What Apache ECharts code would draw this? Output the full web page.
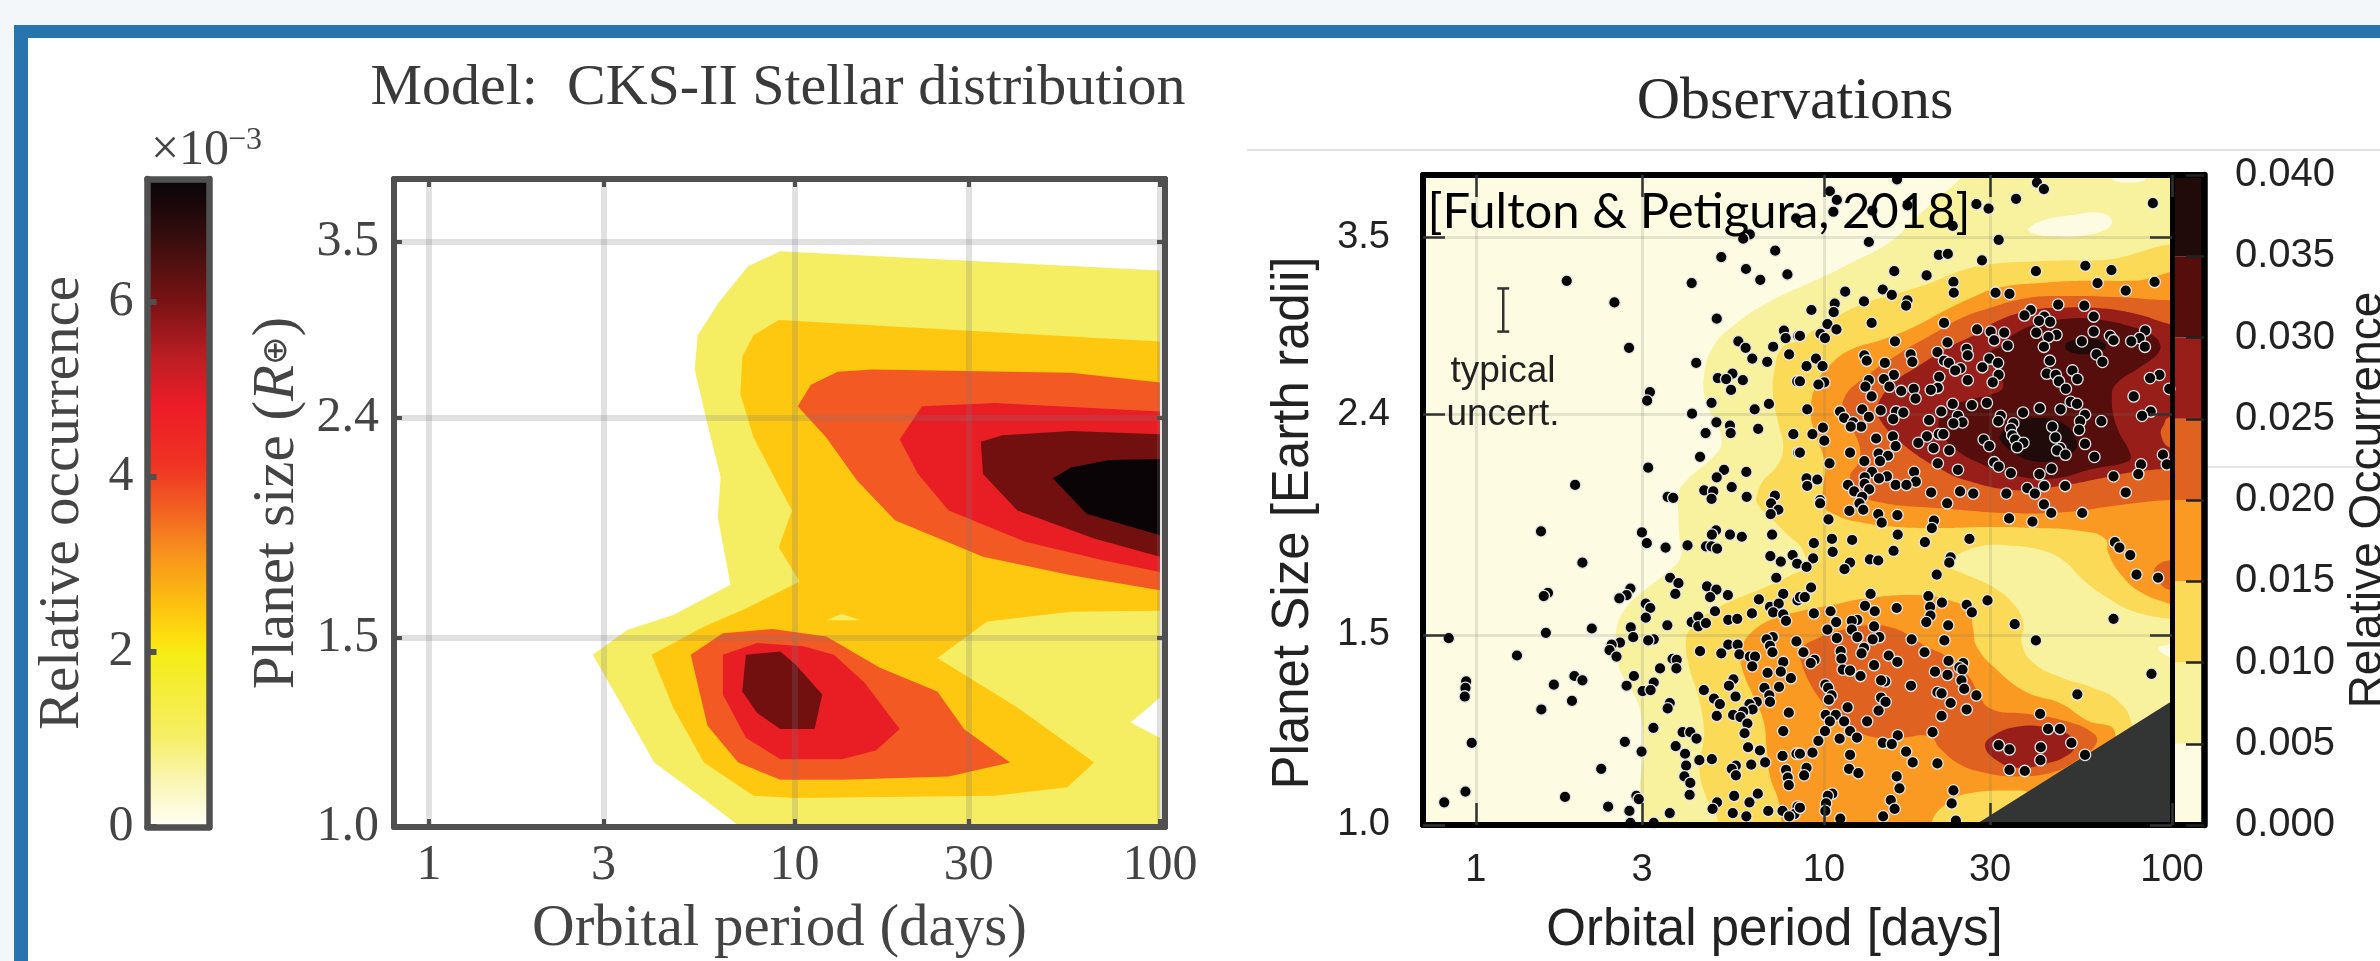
<!DOCTYPE html>
<html><head><meta charset="utf-8"><style>html,body{margin:0;padding:0;background:#fff}#c{width:2380px;height:961px}</style>
<script src="https://cdn.jsdelivr.net/npm/echarts@6/dist/echarts.min.js"></script></head><body><div id="c"></div>
<script>
// All positions on the two period-size planes are [log10(period/days), log10(radius/Earth radii)].
const periodTicks=[1,3,10,30,100];
const radiusTicks=[1.0,1.5,2.4,3.5];
const modelScaleTicks=[0,2,4,6];
const obsScaleTicks=[0,0.005,0.01,0.015,0.02,0.025,0.03,0.035,0.04];
const obsBandEdges=[0,0.005,0.01,0.015,0.02,0.025,0.03,0.035,0.04];
const obsBandColors=['#fdfbe2','#f8f29e','#fbda58','#fa9a22','#e06220','#981e1a','#560e0d','#210b0a'];
const modelScaleStops=[[0,'#fffff6'],[0.07,'#faf6b4'],[0.135,'#f6ef6a'],[0.27,'#f5ec14'],[0.29,'#fde010'],[0.345,'#fdc010'],[0.42,'#f7941d'],[0.5,'#f15a22'],[0.56,'#ef3323'],[0.65,'#ed1c27'],[0.72,'#bf1e24'],[0.81,'#7a1214'],[0.9,'#3d0e0e'],[0.97,'#150609'],[1,'#0a0508']];

const modelL1=[[2,.517],[.961,.535],[.873,.521],[.794,.488],[.735,.457],[.727,.425],[.762,.374],[.798,.325],[.79,.288],[.825,.225],[.668,.197],[.542,.183],[.448,.16],[.521,.117],[.616,.06],[.752,.026],[.852,0],[2,0],[2,.083],[1.92,.097],[2,.12]];
const modelL2=[[2,.451],[.957,.471],[.888,.457],[.857,.437],[.852,.402],[.888,.362],[.94,.328],[.993,.294],[.957,.26],[1.014,.228],[.867,.203],[.752,.186],[.609,.16],[.668,.111],[.752,.06],[.888,.029],[1.003,.027],[1.548,.029],[1.747,.037],[1.82,.06],[1.61,.111],[1.391,.157],[1.527,.191],[1.757,.2],[2,.201]];
const modelL2Gap=[[1.087,.192],[1.129,.198],[1.181,.192]];
const modelL3Upper=[[2,.413],[1.757,.422],[1.213,.425],[1.118,.423],[1.045,.411],[1.009,.391],[1.087,.362],[1.171,.322],[1.275,.285],[1.516,.251],[1.757,.234],[2,.22]];
const modelL3Lower=[[.716,.16],[.804,.18],[.94,.184],[1.087,.177],[1.234,.148],[1.391,.126],[1.464,.091],[1.59,.06],[1.422,.047],[1.129,.044],[.961,.044],[.846,.06],[.762,.094]];
const modelL4Upper=[[2,.386],[1.548,.394],[1.349,.391],[1.288,.36],[1.338,.328],[1.422,.294],[1.631,.265],[1.841,.248],[2,.237]];
const modelL4Lower=[[.804,.16],[.898,.171],[1.024,.168],[1.108,.16],[1.192,.134],[1.288,.091],[1.223,.071],[1.129,.063],[.961,.063],[.867,.083],[.804,.123]];
const modelL5Upper=[[2,.365],[1.757,.368],[1.569,.364],[1.51,.358],[1.516,.328],[1.61,.294],[1.82,.268],[2,.251]];
const modelL5Lower=[[.867,.16],[.961,.163],[1.003,.151],[1.076,.123],[1.055,.091],[.961,.091],[.898,.106],[.857,.126]];
const modelL6=[[2,.342],[1.862,.341],[1.757,.334],[1.707,.324],[1.799,.291],[2,.271]];

const obsL1=[[1.45,.63],[1.391,.599],[1.314,.577],[1.257,.56],[1.19,.54],[1.075,.52],[1,.508],[.931,.498],[.845,.485],[.749,.465],[.682,.443],[.655,.415],[.663,.39],[.696,.369],[.706,.353],[.682,.341],[.605,.319],[.581,.306],[.581,.292],[.584,.27],[.588,.248],[.553,.235],[.491,.219],[.433,.202],[.404,.182],[.404,.156],[.423,.137],[.462,.116],[.479,.091],[.481,.066],[.471,.035],[.476,.002],[.476,-.03],[2.06,-.03],[2.06,.65]];
const obsL0HoleA=[[1.587,.552],[1.63,.56],[1.716,.565],[1.793,.567],[1.827,.56],[1.812,.552],[1.745,.546],[1.659,.545],[1.601,.548]];
const obsL0HoleB=[[1.827,.6],[1.874,.595],[1.927,.6],[1.88,.62]];
const obsL0HoleC=[[1.96,.164],[1.989,.167],[2.03,.17],[2.03,.15],[1.989,.156]];
const obsL2=[[2.05,.525],[1.793,.523],[1.602,.522],[1.468,.519],[1.381,.512],[1.305,.502],[1.218,.493],[1.113,.483],[1.027,.469],[.969,.458],[.931,.449],[.883,.443],[.859,.424],[.854,.397],[.869,.372],[.883,.35],[.864,.332],[.826,.319],[.808,.306],[.808,.298],[.855,.282],[.902,.267],[.931,.259],[.95,.247],[.965,.239],[.931,.235],[.845,.222],[.682,.199],[.615,.181],[.603,.168],[.615,.144],[.639,.119],[.655,.091],[.653,.076],[.642,.054],[.658,.029],[.697,.002],[.7,-.03],[1.6,-.03],[1.889,.05],[1.884,.094],[1.841,.116],[1.774,.127],[1.678,.137],[1.602,.15],[1.568,.168],[1.573,.187],[1.544,.205],[1.477,.222],[1.4,.233],[1.353,.241],[1.382,.25],[1.448,.258],[1.525,.259],[1.621,.255],[1.688,.245],[1.745,.227],[1.812,.211],[1.889,.198],[1.992,.191],[2.05,.19]];
const obsL3Upper=[[2.05,.505],[1.889,.504],[1.745,.504],[1.621,.502],[1.506,.498],[1.429,.489],[1.333,.474],[1.257,.461],[1.171,.45],[1.075,.44],[1.017,.426],[.979,.409],[.962,.384],[.974,.363],[1.003,.335],[.998,.313],[.998,.296],[1.036,.287],[1.094,.281],[1.209,.276],[1.333,.275],[1.467,.276],[1.602,.275],[1.745,.272],[1.808,.265],[1.817,.252],[1.851,.233],[1.908,.216],[1.992,.205],[2.05,.2]];
const obsL3Lower=[[.878,-.03],[.878,.002],[.869,.023],[.845,.045],[.835,.073],[.826,.097],[.797,.119],[.763,.147],[.763,.162],[.787,.177],[.854,.191],[.931,.198],[1.027,.204],[1.123,.21],[1.266,.213],[1.362,.208],[1.415,.199],[1.429,.181],[1.439,.165],[1.496,.144],[1.582,.123],[1.678,.113],[1.755,.097],[1.836,.086],[1.8,.03],[1.6,.03],[1.563,.032],[1.41,.029],[1.353,.02],[1.31,.003],[1.3,-.03]];
const obsL4Upper=[[2.05,.487],[1.992,.486],[1.841,.489],[1.697,.49],[1.582,.488],[1.467,.478],[1.391,.469],[1.314,.455],[1.218,.437],[1.132,.418],[1.056,.394],[1.075,.372],[1.103,.35],[1.098,.335],[1.075,.323],[1.094,.31],[1.127,.302],[1.161,.299],[1.218,.296],[1.353,.293],[1.525,.289],[1.697,.29],[1.841,.296],[1.992,.301],[2.05,.3]];
const obsL4Lower=[[.931,.162],[.989,.174],[1.056,.181],[1.123,.185],[1.18,.184],[1.238,.177],[1.295,.165],[1.353,.156],[1.41,.14],[1.439,.125],[1.477,.108],[1.582,.103],[1.697,.096],[1.774,.085],[1.783,.076],[1.74,.063],[1.659,.049],[1.554,.045],[1.468,.048],[1.391,.056],[1.333,.071],[1.305,.082],[1.218,.081],[1.123,.083],[1.046,.097],[.998,.113],[.96,.131],[.936,.15]];
const obsL4Side=[[2.05,.245],[1.992,.245],[1.96,.241],[1.948,.234],[1.96,.226],[1.992,.218],[2.05,.22]];
const obsL5Upper=[[2.05,.46],[1.992,.464],[1.889,.474],[1.774,.479],[1.678,.479],[1.602,.477],[1.506,.468],[1.439,.455],[1.362,.443],[1.266,.424],[1.199,.409],[1.153,.387],[1.166,.373],[1.209,.358],[1.266,.343],[1.333,.33],[1.41,.319],[1.554,.31],[1.678,.314],[1.793,.321],[1.889,.327],[1.992,.33],[2.05,.33]];
const obsL4Notch=[[2.05,.38],[1.992,.378],[1.975,.37],[1.968,.362],[1.992,.35],[2.05,.35]];
const obsL5Lower=[[1.463,.073],[1.487,.083],[1.554,.091],[1.631,.091],[1.697,.085],[1.721,.074],[1.702,.065],[1.64,.057],[1.554,.053],[1.496,.06]];
const obsL6=[[1.697,.469],[1.602,.463],[1.544,.454],[1.506,.443],[1.473,.437],[1.496,.421],[1.515,.406],[1.482,.399],[1.42,.394],[1.353,.386],[1.329,.372],[1.343,.36],[1.381,.347],[1.448,.335],[1.544,.324],[1.659,.321],[1.774,.33],[1.875,.337],[1.88,.344],[1.841,.369],[1.827,.397],[1.841,.409],[1.908,.424],[1.96,.437],[1.965,.446],[1.937,.455],[1.889,.461],[1.793,.468]];
const obsL7A=[[1.693,.444],[1.707,.448],[1.745,.451],[1.793,.449],[1.81,.443],[1.788,.438],[1.745,.436],[1.707,.438]];
const obsL7B=[[1.506,.361],[1.544,.372],[1.611,.377],[1.688,.372],[1.726,.356],[1.721,.347],[1.678,.339],[1.602,.337],[1.544,.345],[1.51,.355]];
const obsExcluded=[[1.286,-.03],[2.03,.121],[2.03,-.03]];
const typicalUncert=[.0785,.457,.497];

const obsPointsUpperShort=[[.92,.562],[.787,.547],[.768,.543],[.86,.532],[.705,.526],[.776,.515],[.817,.505],[.895,.51],[.261,.504],[.62,.502],[.398,.484],[.692,.469],[.885,.458],[.89,.451],[.926,.453],[.754,.448],[.775,.442],[.854,.443],[.44,.442],[.9,.436],[.794,.432],[.837,.429],[.633,.428],[.737,.418],[.695,.414],[.719,.413],[.767,.412],[.923,.411],[.733,.403],[.5,.401],[.492,.393],[.677,.391],[.842,.39],[.801,.385],[.621,.381],[.691,.373],[.73,.37],[.811,.367],[.732,.363],[.66,.363],[.912,.362],[.926,.345],[.644,.341],[.495,.331],[.713,.329],[.777,.327],[.692,.322],[.285,.315],[.735,.313],[.656,.31],[.682,.309],[.551,.304],[.567,.303],[.677,.302],[.778,.304],[.859,.305]];
const obsPointsLowerShort=[[.848,.298],[.869,.292],[.847,.288],[.187,.272],[.477,.271],[.69,.273],[.678,.269],[.73,.269],[.764,.267],[.851,.269],[.491,.261],[.545,.257],[.608,.259],[.661,.258],[.677,.258],[.693,.256],[.846,.249],[.91,.25],[.876,.244],[.923,.242],[.306,.243],[.863,.229],[.558,.229],[.582,.224],[.664,.221],[.691,.218],[.444,.219],[.433,.213],[.412,.21],[.207,.215],[.195,.212],[.573,.214],[.883,.214],[.673,.211],[.724,.213],[.813,.209],[.924,.208],[.845,.202],[.87,.205],[.488,.205],[.501,.201],[.687,.198],[.854,.197],[.883,.195],[.793,.196],[.488,.192],[.725,.19],[.751,.191],[.891,.189],[.636,.19],[.62,.188],[.639,.193],[.639,.184],[.661,.187],[.55,.185],[.445,.183],[.333,.182],[.201,.178],[.452,.174],[-.078,.173],[.511,.172],[.495,.171],[.853,.174],[.835,.172],[.921,.17],[.414,.169],[.39,.167],[.725,.167],[.752,.167],[.845,.166],[.384,.162],[.644,.161],[.852,.16],[.705,.159],[.757,.158],[.404,.156],[.118,.157],[.787,.156],[.802,.156],[.565,.154],[.577,.153],[.883,.151],[.794,.147],[.529,.145],[.576,.145],[.454,.138],[.283,.138],[.838,.141],[.876,.142],[.905,.136],[.306,.134],[.74,.135],[-.028,.133],[.511,.132],[.224,.13],[.727,.129],[.433,.129],[.655,.125],[.829,.127],[.871,.128],[-.03,.127],[.479,.124],[.502,.125],[.843,.12],[-.032,.119],[.746,.119],[.684,.117],[.807,.114],[.845,.114],[.701,.112],[.786,.112],[.276,.115],[.557,.113],[.551,.108],[.188,.107],[.795,.107],[.899,.104],[.768,.105],[.739,.102],[.76,.1],[.692,.101],[.78,.094],[.51,.09],[.594,.086],[.616,.086],[.883,.087],[.772,.085],[.634,.08],[-.012,.076],[.428,.077],[.574,.073],[.782,.072],[.816,.069],[.921,.066],[.476,.068],[.601,.066],[.881,.064],[.642,.06],[.678,.061],[.831,.058],[.36,.052],[.604,.055],[.791,.056],[.747,.055],[.735,.052],[.747,.046],[.891,.051],[.896,.044],[.599,.045],[.616,.039],[.899,.037],[-.03,.031],[-.091,.021],[.256,.026],[.461,.027],[.614,.028],[.742,.027],[.81,.029],[.468,.024],[.786,.021],[.693,.021],[.38,.017],[.68,.015],[.924,.017],[.441,.013],[.557,.011],[.738,.011],[.84,.013],[.881,.013],[.915,.01],[.777,.008],[.9,.008],[.444,.002],[.511,.002]];
const obsPointsUpperLong=[[1.21,.598],[1.017,.587],[1.612,.595],[1.632,.589],[1.037,.579],[1.552,.58],[1.945,.576],[1.438,.575],[1.473,.571],[1.24,.574],[1.027,.568],[1.139,.569],[1.37,.555],[1.129,.54],[1.502,.542],[1.33,.528],[1.356,.529],[1.454,.523],[1.751,.518],[1.202,.513],[1.609,.513],[1.826,.514],[1.295,.509],[1.372,.503],[1.786,.502],[1.95,.503],[1.867,.495],[1.061,.494],[1.169,.496],[1.195,.491],[1.373,.493],[1.493,.493],[1.533,.492],[1.115,.485],[1.24,.486],[1.236,.481],[1.031,.483],[1.673,.482],[1.748,.481],[.964,.477],[1.028,.475],[1.594,.477],[1.576,.472],[1.775,.471],[1.633,.471],[1.618,.467],[1.65,.466],[1.137,.465],[1.345,.465],[1.01,.464],[1.036,.459],[1.44,.459],[1.479,.457],[1.518,.456],[1.775,.457],[1.668,.454],[1.61,.456],[1.923,.458],[.931,.453],[.99,.455],[1.003,.451],[1.645,.452],[1.822,.453],[1.907,.451],[1.832,.449],[1.741,.448],[1.883,.448],[1.489,.449],[1.204,.448],[1.355,.447],[1.528,.444],[1.632,.443],[1.922,.443],[1.41,.441],[1.326,.438],[1.413,.435],[1.249,.436],[1.116,.435],[1.783,.436],[1.475,.432],[.977,.432],[1.123,.43],[1.254,.429],[1.649,.43],[1.175,.428],[1.8,.429],[1.345,.43],[1.359,.428],[.95,.425],[.996,.425],[1.5,.428],[1.392,.423],[1.455,.424],[1.377,.421],[1.502,.417],[1.714,.421],[1.64,.418],[1.666,.417],[1.201,.417],[1.331,.415],[1.964,.417],[1.937,.414],[1.172,.413],[1.129,.412],[1.413,.412],[1.675,.411],[1.728,.413],[1.001,.41],[.984,.408],[.931,.411],[1.119,.406],[1.188,.406],[1.485,.41],[1.222,.402],[1.258,.404],[1.327,.405],[1.307,.403],[1.695,.404],[1.992,.404],[1.263,.395],[1.137,.397],[1.89,.397],[1.468,.391],[1.425,.389],[1.37,.39],[1.709,.392],[1.727,.39],[.952,.385],[1.11,.385],[1.163,.384],[1.62,.386],[1.68,.385],[1.572,.382],[1.337,.383],[1.046,.383],[1.207,.383],[1.228,.382],[1.939,.383],[1.914,.379],[1.508,.379],[1.75,.38],[1.058,.377],[1.129,.378],[1.199,.376],[1.302,.375],[1.501,.374],[1.797,.374],[1.736,.374],[1.385,.379],[1.398,.373],[1.372,.372],[1.084,.373],[1.544,.372],[1.107,.369],[1.077,.369],[1.656,.369],[1.537,.367],[1.733,.366],[.997,.368],[.967,.362],[1.33,.362],[1.343,.362],[1.296,.36],[1.541,.361],[1.665,.359],[1.198,.36],[1.15,.358],[1.001,.356],[1.459,.357],[1.549,.357],[1.271,.354],[1.573,.354],[1.75,.353],[1.475,.351],[1.206,.351],[1.315,.349],[1.555,.35],[1.679,.349],[1.075,.345],[1.36,.347],[1.67,.347],[1.694,.343],[.931,.345],[1.157,.344],[1.974,.343],[1.184,.342],[1.777,.341],[1.161,.337],[1.489,.336],[1.116,.337],[1.327,.335],[1.016,.335],[1.911,.334],[1.985,.334],[1.502,.332],[1.654,.33],[1.385,.329],[1.537,.326],[1.259,.327],[1.138,.327],[1.619,.325],[1.903,.325],[1.832,.323],[1.181,.323],[1.117,.322],[1.158,.321],[.95,.321],[.981,.32],[1.264,.318],[1.206,.315],[1.237,.315],[1.069,.315],[1.117,.316],[1.633,.314],[1.693,.314],[.952,.314],[1.584,.312],[1.087,.309],[1.308,.308],[1.391,.309],[1.13,.311],[1.429,.307],[1.524,.307],[1.606,.307],[1.867,.308],[1.11,.304],[.989,.301]];
const obsPointsLowerLong=[[.989,.298],[1.102,.298],[1.354,.298],[1.632,.297],[1.113,.292],[1.073,.291],[1.156,.288],[1.211,.287],[1.653,.289],[1.742,.289],[1.532,.284],[1.013,.283],[1.316,.282],[1.166,.28],[1.599,.281],[1.31,.275],[1.212,.269],[1.418,.265],[1.023,.265],[1.081,.264],[.971,.261],[1.29,.262],[1.836,.262],[1.849,.257],[1.025,.253],[1.2,.254],[1.88,.25],[.969,.247],[1.364,.248],[1.36,.243],[1.132,.246],[1.156,.245],[1.075,.243],[1.059,.237],[.95,.239],[1.324,.232],[1.898,.232],[1.96,.229],[.963,.22],[1.134,.214],[1.3,.212],[.931,.211],[.945,.211],[1.47,.208],[1.339,.206],[1.41,.204],[1.118,.203],[1.305,.202],[1.209,.201],[1.425,.197],[1.019,.198],[1.146,.198],[.971,.196],[1.306,.194],[1.832,.191],[1.096,.19],[1.08,.189],[1.035,.188],[1.294,.188],[1.548,.186],[1.357,.185],[1.144,.184],[1.01,.181],[1.08,.181],[1.096,.174],[1.037,.173],[1.159,.174],[1.14,.172],[1.252,.172],[1.346,.171],[1.609,.171],[1.115,.164],[1.048,.161],[.941,.16],[1.289,.16],[1.108,.159],[1.186,.157],[1.358,.152],[1.05,.154],[.973,.153],[.962,.15],[1.211,.151],[1.144,.148],[1.4,.15],[1.389,.146],[1.054,.144],[1.075,.143],[1.319,.142],[1.398,.144],[1.355,.139],[1.941,.14],[1.105,.138],[1.395,.134],[1.176,.133],[1.164,.134],[1.25,.129],[1.004,.13],[1.012,.127],[1.403,.126],[1.326,.123],[1.338,.122],[1.438,.12],[1.728,.121],[1.022,.12],[1.014,.116],[1.164,.118],[1.177,.114],[1.364,.113],[1.068,.109],[1.41,.107],[1.157,.106],[1.621,.103],[1.005,.102],[1.034,.102],[1.338,.101],[1.017,.096],[1.058,.096],[1.124,.096],[1.644,.089],[1.678,.089],[1.003,.087],[1.075,.087],[1.312,.086],[1.212,.083],[1.095,.081],[.984,.078],[1.045,.08],[1.711,.076],[1.169,.076],[1.195,.075],[1.502,.074],[1.623,.072],[1.533,.07],[.967,.067],[1.236,.068],[1.075,.065],[1.75,.065],[.931,.066],[1.622,.06],[1.255,.058],[1.326,.057],[.95,.053],[1.072,.052],[1.533,.051],[1.577,.05],[.943,.046],[1.099,.048],[1.209,.045],[1.217,.034],[1.372,.032],[1.024,.029],[1.011,.027],[1.192,.023],[1.367,.02],[1.006,.02],[1.203,.015],[.931,.016],[1.004,.013],[1.17,.008],[1.047,.006],[1.379,.004]];

const serif='"Liberation Serif",serif', sans='"Liberation Sans",sans-serif';
const chart=echarts.init(document.getElementById('c'),null,{renderer:'canvas'});
const grid=[],xAxis=[],yAxis=[],series=[];
const logs=a=>a.map(Math.log10);

function panel(g){
  // g: grid box, ranges and styling. Returns the axis indices the series must use.
  const gi=grid.length;
  grid.push({left:g.left,top:g.top,width:g.width,height:g.height,containLabel:false,outerBoundsMode:'none'});
  const tick=(len,w)=>({show:len>0,inside:true,length:len,lineStyle:{color:g.tickColor||g.frame,width:w}});
  const xi=xAxis.length, yi=yAxis.length;
  const base={gridIndex:gi,type:'value',splitLine:{show:false},axisPointer:{show:false}};
  const ax=(side,vals,fmt,font,margin,extra,rng,tlen,tw,lineW)=>Object.assign({},base,{min:rng[0],max:rng[1],position:side,z:5,
    axisLine:{show:true,onZero:false,lineStyle:{color:g.frame,width:lineW==null?g.frameW:lineW}},
    axisTick:Object.assign(tick(vals&&tlen?tlen:0,tw),{customValues:vals||[]}),
    axisLabel:fmt?{customValues:vals,formatter:fmt,margin:margin,color:g.textColor,fontFamily:font.family,fontSize:font.size}:{show:false,customValues:vals||[]}},extra||{});
  xAxis.push(ax('bottom',g.xVals,g.xFmt,g.font,g.xMargin,g.xName,g.xRange,g.tickLen,g.tickW));
  xAxis.push(ax('top',g.xTopVals||g.xVals,null,null,0,null,g.xRange,g.tickLen,g.tickW));
  yAxis.push(ax(g.yMainSide||'left',g.yVals,g.yFmt,g.font,g.yMargin,g.yName,g.yRange,g.tickLen,g.tickW,g.yMainW));
  yAxis.push(ax(g.yMainSide==='right'?'left':'right',g.yOtherVals===undefined?g.yVals:g.yOtherVals,null,null,0,null,g.yRange,g.tickLen,g.tickW,g.yOtherW));
  if(g.gridLine){
    const gl=(vals,rng,side)=>Object.assign({},base,{min:rng[0],max:rng[1],position:side,z:2,axisLine:{show:false},
      axisTick:{show:false,customValues:vals},axisLabel:{show:false,customValues:vals},splitLine:{show:true,lineStyle:{color:g.gridLine.color,width:g.gridLine.width}}});
    xAxis.push(gl(g.xVals,g.xRange,'bottom')); yAxis.push(gl(g.yVals,g.yRange,'left'));
  }
  return {xAxisIndex:xi,yAxisIndex:yi};
}
function polygons(idx,list,smooth,z){
  series.push(Object.assign({type:'custom',coordinateSystem:'cartesian2d',clip:true,silent:true,animation:false,z:z,
    data:list.map((_,i)=>[i]),encode:{x:0},
    renderItem(p,api){const it=list[api.value(0)];
      return {type:'polygon',z2:api.value(0),shape:{points:it[0].map(c=>api.coord(c)),smooth:smooth},style:{fill:it[1]}};}},idx));
}

const xv=logs(periodTicks), yv=logs(radiusTicks);
const xFmt=v=>String(Math.round(Math.pow(10,v)));
const yFmt=v=>Math.pow(10,v).toFixed(1);
const yMax=Math.log10(4);

// ---- model panel
const mp=panel({left:394,top:179,width:771,height:648,frame:'#505050',frameW:6,tickLen:8,tickW:4,textColor:'#444',
  xRange:[-.096,2.014],yRange:[0,yMax],xVals:xv,yVals:yv,xFmt,yFmt,font:{family:serif,size:50},xMargin:14,yMargin:15,
  gridLine:{color:'rgba(120,120,125,0.22)',width:6},
  xName:{name:'Orbital period (days)',nameLocation:'middle',nameGap:73,nameTextStyle:{fontFamily:serif,fontSize:59,color:'#444'}},
  yName:{name:'Planet size ({i|R}{s|⊕})',nameLocation:'middle',nameRotate:90,nameGap:87,
    nameTextStyle:{fontFamily:serif,fontSize:59,color:'#444',rich:{i:{fontStyle:'italic',fontFamily:serif,fontSize:59,color:'#444'},s:{fontFamily:'"DejaVu Sans"',fontSize:34,color:'#444'}}}}});
polygons(mp,[[modelL1,'#f5ee63'],[modelL2,'#fec811'],[modelL2Gap,'#f5ee63'],[modelL3Upper,'#f35a23'],[modelL3Lower,'#f35a23'],[modelL4Upper,'#e91e25'],[modelL4Lower,'#e91e25'],[modelL5Upper,'#721010'],[modelL5Lower,'#721010'],[modelL6,'#0a0406']],0,1);

// ---- model colour scale
const mc=panel({left:147.5,top:179,width:61.5,height:648,frame:'#505050',frameW:6.5,tickLen:9,tickW:6,textColor:'#444',
  xRange:[0,1],yRange:[0,7.4],xVals:[],yVals:modelScaleTicks,yOtherVals:[],yFmt:v=>String(v),font:{family:serif,size:50},yMargin:14,
  yName:{name:'Relative occurrence',nameLocation:'middle',nameRotate:90,nameGap:56,nameTextStyle:{fontFamily:serif,fontSize:57,color:'#444'}}});
series.push(Object.assign({type:'custom',coordinateSystem:'cartesian2d',clip:true,silent:true,animation:false,z:1,data:[[0]],encode:{x:0},
  renderItem(p,api){const a=api.coord([0,7.4]),b=api.coord([1,0]);
    return {type:'rect',shape:{x:a[0],y:a[1],width:b[0]-a[0],height:b[1]-a[1]},
      style:{fill:new echarts.graphic.LinearGradient(0,1,0,0,modelScaleStops.map(s=>({offset:s[0],color:s[1]})))}};}},mc));

// ---- observation panel
const op=panel({left:1423,top:175,width:749,height:650,frame:'#000',frameW:6,tickColor:'#333',tickLen:22,tickW:2.5,textColor:'#222',
  xRange:[-.152,2],yRange:[0,yMax],xVals:xv,xTopVals:xv,yVals:yv,xFmt,yFmt,font:{family:sans,size:38},xMargin:27,yMargin:33,yOtherW:5,
  gridLine:{color:'rgba(105,115,95,0.17)',width:3},
  xName:{name:'Orbital period [days]',nameLocation:'middle',nameGap:80,nameTextStyle:{fontFamily:sans,fontSize:51,color:'#222',padding:[0,46,0,0]}},
  yName:{name:'Planet Size [Earth radii]',nameLocation:'middle',nameRotate:90,nameGap:104,nameTextStyle:{fontFamily:sans,fontSize:51,color:'#222',padding:[0,46,0,0]}}});
polygons(op,[[[[-.3,-.1],[-.3,.7],[2.1,.7],[2.1,-.1]],obsBandColors[0]]],0,0.5);
polygons(op,[[obsL1,obsBandColors[1]],[obsL0HoleA,obsBandColors[0]],[obsL0HoleB,obsBandColors[0]],[obsL0HoleC,obsBandColors[0]],
  [obsL2,obsBandColors[2]],[obsL3Upper,obsBandColors[3]],[obsL3Lower,obsBandColors[3]],[obsL4Upper,obsBandColors[4]],[obsL4Lower,obsBandColors[4]],[obsL4Side,obsBandColors[4]],
  [obsL5Upper,obsBandColors[5]],[obsL4Notch,obsBandColors[4]],[obsL5Lower,obsBandColors[5]],[obsL6,obsBandColors[6]],[obsL7A,obsBandColors[7]],[obsL7B,obsBandColors[7]]],0.45,1);
polygons(op,[[obsExcluded,'#333434']],0,3);
series.push(Object.assign({type:'scatter',silent:true,animation:false,z:4,clip:true,symbolSize:11.5,
  itemStyle:{color:'#060606',borderColor:'#e6e6e6',borderWidth:1.3,opacity:1},
  data:[].concat(obsPointsUpperShort,obsPointsLowerShort,obsPointsUpperLong,obsPointsLowerLong)},op));
series.push(Object.assign({type:'custom',coordinateSystem:'cartesian2d',silent:true,animation:false,z:4,data:[typicalUncert],encode:{x:0,y:1},
  renderItem(p,api){const lo=api.coord([api.value(0),api.value(1)]),hi=api.coord([api.value(0),api.value(2)]);
    const st={stroke:'#333',lineWidth:2.5};
    return {type:'group',children:[
      {type:'line',shape:{x1:lo[0],y1:lo[1],x2:hi[0],y2:hi[1]},style:st},
      {type:'line',shape:{x1:lo[0]-6,y1:lo[1],x2:lo[0]+6,y2:lo[1]},style:st},
      {type:'line',shape:{x1:hi[0]-6,y1:hi[1],x2:hi[0]+6,y2:hi[1]},style:st}]};}},op));

// ---- observation colour scale
const oc=panel({left:2172.5,top:175,width:31.5,height:650,frame:'#000',frameW:6,tickLen:18,tickW:2.5,tickColor:'#222',textColor:'#222',
  xRange:[0,1],yRange:[0,0.04],xVals:[],yMainSide:'right',yVals:obsScaleTicks,yOtherVals:[],yFmt:v=>v.toFixed(3),font:{family:sans,size:40},yMargin:31,yOtherW:5,yMainW:6.5});
series.push(Object.assign({type:'custom',coordinateSystem:'cartesian2d',clip:true,silent:true,animation:false,z:1,data:obsBandColors.map((_,i)=>[i]),encode:{x:0},
  renderItem(p,api){const i=api.value(0),a=api.coord([0,obsBandEdges[i+1]]),b=api.coord([1,obsBandEdges[i]]);
    return {type:'rect',shape:{x:a[0],y:a[1],width:b[0]-a[0],height:b[1]-a[1]},style:{fill:obsBandColors[i]}};}},oc));

const txt=(text,x,y,family,size,color,o)=>Object.assign({type:'text',x:x,y:y,z:100,silent:true,style:Object.assign({text:text,fontFamily:family,fontSize:size,fill:color,textAlign:'center',textVerticalAlign:'middle'},o&&o.style||{})},o&&o.el||{});

chart.setOption({animation:false,backgroundColor:'#fff',grid,xAxis,yAxis,series,
  graphic:{elements:[
    {type:'rect',z:0,silent:true,shape:{x:0,y:0,width:2380,height:25},style:{fill:'#f3f7fa'}},
    {type:'rect',z:0,silent:true,shape:{x:0,y:0,width:14,height:961},style:{fill:'#f3f7fa'}},
    {type:'rect',z:1,silent:true,shape:{x:14,y:25,width:2366,height:13},style:{fill:'#2874ae'}},
    {type:'rect',z:1,silent:true,shape:{x:14,y:25,width:14,height:936},style:{fill:'#2874ae'}},
    {type:'line',z:1,silent:true,shape:{x1:1247,y1:150,x2:2380,y2:150},style:{stroke:'#e2e2e2',lineWidth:2}},
    {type:'line',z:1,silent:true,shape:{x1:2207,y1:467,x2:2380,y2:467},style:{stroke:'#e6e6e6',lineWidth:2}},
    txt('Model:  CKS-II Stellar distribution',778,89,serif,58,'#3a3a3a'),
    txt('Observations',1795,102,serif,60,'#2a2a2a'),
    txt('×10',190,151,serif,50,'#444'),
    txt('−3',245,141,serif,32,'#444'),
    txt('[Fulton & Petigura, 2018]',1699,212,'Lato',49,'#000'),
    txt('typical',1503,372,sans,37,'#222'),
    txt('uncert.',1503,415,sans,37,'#222'),
    txt('Relative Occurrence',2368,500,sans,46,'#222',{el:{rotation:Math.PI/2}})
  ]}});
</script></body></html>
